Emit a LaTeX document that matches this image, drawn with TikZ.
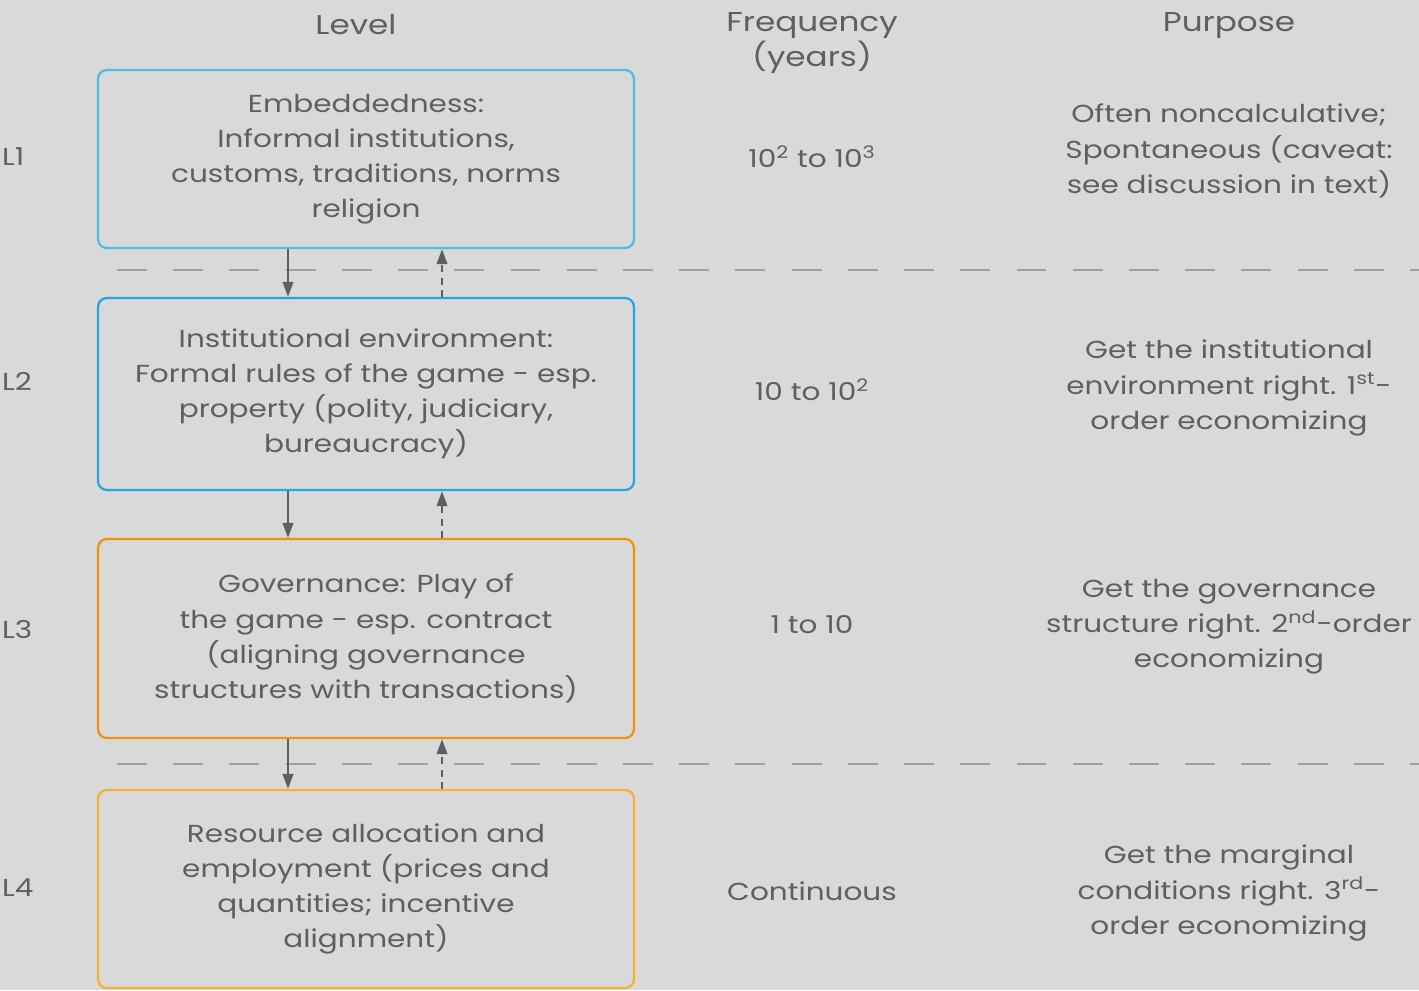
\documentclass[tikz,border=0pt]{standalone}
\usepackage{fontspec}
\setmainfont{Poppins}[FakeStretch=1.2]
\usepackage{tikz}
\usetikzlibrary{arrows.meta, positioning}
\definecolor{bgrey}{RGB}{217,217,217}
\definecolor{txtgrey}{RGB}{92,96,101}
\definecolor{sepgrey}{RGB}{160,160,160}
\definecolor{lvlcyan}{RGB}{75,190,225}
\definecolor{lvlblue}{RGB}{40,165,225}
\definecolor{lvlorange}{RGB}{242,146,12}
\definecolor{lvlamber}{RGB}{245,178,50}
\tikzset{
  levelbox/.style={rectangle, rounded corners=5pt, line width=1.3pt,
    minimum width=10.72cm, align=center, text=txtgrey,
    font=\fontsize{14}{20}\selectfont},
  coltext/.style={align=center, text=txtgrey,
    font=\fontsize{14}{20}\selectfont},
  headtext/.style={align=center, text=txtgrey,
    font=\fontsize{15.5}{17.5}\selectfont},
  lvltag/.style={anchor=west, text=txtgrey,
    font=\fontsize{14}{20}\selectfont},
  downarrow/.style={-{Triangle[length=8.5pt, width=6pt]}, line width=1.1pt, color=txtgrey},
  uparrow/.style={-{Triangle[length=8.5pt, width=6pt]}, line width=1.1pt, color=txtgrey,
    dash pattern=on 4pt off 3pt},
  sepline/.style={line width=0.9pt, color=sepgrey, dash pattern=on 17pt off 15pt}
}

\begin{document}
\begin{tikzpicture}[x=0.02cm, y=-0.02cm]
  \fill[bgrey] (0,0) rectangle (1419,990);
  \useasboundingbox (0,0) rectangle (1419,990);

  % Column headings
  \node[headtext] (hlevel) at (356,25) {Level};
  \node[headtext] (hfreq) at (812,43) {Frequency\\(years)};
  \node[headtext] (hpurp) at (1229,26) {Purpose};

  % Level boxes
  \node[levelbox, draw=lvlcyan, minimum height=3.56cm] (l1) at (366,159)
    {Embeddedness:\\Informal institutions,\\customs, traditions, norms\\religion};
  \node[levelbox, draw=lvlblue, minimum height=3.84cm] (l2) at (366,394)
    {Institutional environment:\\Formal rules of the game - esp.\\property (polity, judiciary,\\bureaucracy)};
  \node[levelbox, draw=lvlorange, minimum height=3.98cm] (l3) at (366,638.5)
    {Governance: Play of\\the game - esp. contract\\(aligning governance\\structures with transactions)};
  \node[levelbox, draw=lvlamber, minimum height=3.96cm] (l4) at (366,889)
    {Resource allocation and\\employment (prices and\\quantities; incentive\\alignment)};

  % Level tags
  \node[lvltag] (t1) at (-4,157) {L1};
  \node[lvltag] (t2) at (-4,381) {L2};
  \node[lvltag] (t3) at (-4,629) {L3};
  \node[lvltag] (t4) at (-4,888) {L4};

  % Frequency
  \node[coltext] (f1) at (812,157) {10\textsuperscript{2} to 10\textsuperscript{3}};
  \node[coltext] (f2) at (812,390) {10 to 10\textsuperscript{2}};
  \node[coltext] (f3) at (812,625) {1 to 10};
  \node[coltext] (f4) at (812,891) {Continuous};

  % Purpose
  \node[coltext] (p1) at (1229,151) {Often noncalculative;\\Spontaneous (caveat:\\see discussion in text)};
  \node[coltext] (p2) at (1229,388) {Get the institutional\\environment right. 1\textsuperscript{st}-\\order economizing};
  \node[coltext] (p3) at (1229,627) {Get the governance\\structure right. 2\textsuperscript{nd}-order\\economizing};
  \node[coltext] (p4) at (1229,893) {Get the marginal\\conditions right. 3\textsuperscript{rd}-\\order economizing};

  % Separators
  \draw[sepline] (117,270) -- (1419,270);
  \draw[sepline] (117,764) -- (1419,764);

  % Connections
  \coordinate (dn) at (288,0);
  \coordinate (up) at (442,0);
  \draw[downarrow] (l1.south -| dn) -- (l2.north -| dn);
  \draw[uparrow] (l2.north -| up) -- (l1.south -| up);
  \draw[downarrow] (l2.south -| dn) -- (l3.north -| dn);
  \draw[uparrow] (l3.north -| up) -- (l2.south -| up);
  \draw[downarrow] (l3.south -| dn) -- (l4.north -| dn);
  \draw[uparrow] (l4.north -| up) -- (l3.south -| up);
\end{tikzpicture}
\end{document}
